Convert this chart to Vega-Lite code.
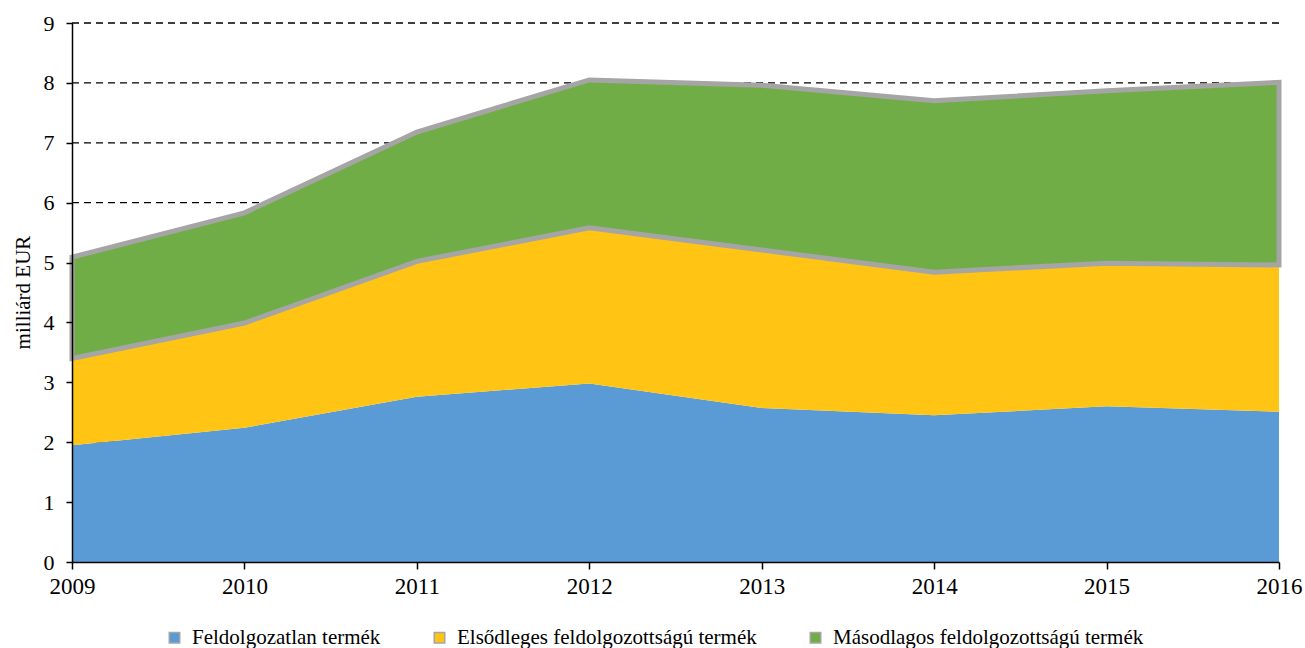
{
  "$schema": "https://vega.github.io/schema/vega-lite/v6.json",
  "width": 1207,
  "height": 539,
  "autosize": {"type": "none"},
  "padding": {"left": 72, "top": 23, "right": 26, "bottom": 86},
  "background": "white",
  "config": {
    "view": {"stroke": null},
    "font": "Liberation Serif",
    "axis": {"labelFont": "Liberation Serif", "titleFont": "Liberation Serif", "labelColor": "black", "titleColor": "black", "domainColor": "black", "tickColor": "black", "titleFontWeight": "normal"},
    "legend": {"labelFont": "Liberation Serif"}
  },
  "datasets": {
    "grid": [{"g": 1}, {"g": 2}, {"g": 3}, {"g": 4}, {"g": 5}, {"g": 6}, {"g": 7}, {"g": 8}, {"g": 9}],
    "main": [
      {"year": 2009, "s": "Feldolgozatlan termék", "ord": 1, "v": 1.95},
      {"year": 2010, "s": "Feldolgozatlan termék", "ord": 1, "v": 2.24},
      {"year": 2011, "s": "Feldolgozatlan termék", "ord": 1, "v": 2.76},
      {"year": 2012, "s": "Feldolgozatlan termék", "ord": 1, "v": 2.98},
      {"year": 2013, "s": "Feldolgozatlan termék", "ord": 1, "v": 2.57},
      {"year": 2014, "s": "Feldolgozatlan termék", "ord": 1, "v": 2.45},
      {"year": 2015, "s": "Feldolgozatlan termék", "ord": 1, "v": 2.60},
      {"year": 2016, "s": "Feldolgozatlan termék", "ord": 1, "v": 2.51},
      {"year": 2009, "s": "Elsődleges feldolgozottságú termék", "ord": 2, "v": 1.45},
      {"year": 2010, "s": "Elsődleges feldolgozottságú termék", "ord": 2, "v": 1.75},
      {"year": 2011, "s": "Elsődleges feldolgozottságú termék", "ord": 2, "v": 2.26},
      {"year": 2012, "s": "Elsődleges feldolgozottságú termék", "ord": 2, "v": 2.60},
      {"year": 2013, "s": "Elsődleges feldolgozottságú termék", "ord": 2, "v": 2.64},
      {"year": 2014, "s": "Elsődleges feldolgozottságú termék", "ord": 2, "v": 2.39},
      {"year": 2015, "s": "Elsődleges feldolgozottságú termék", "ord": 2, "v": 2.39},
      {"year": 2016, "s": "Elsődleges feldolgozottságú termék", "ord": 2, "v": 2.45},
      {"year": 2009, "s": "Másodlagos feldolgozottságú termék", "ord": 3, "v": 1.69},
      {"year": 2010, "s": "Másodlagos feldolgozottságú termék", "ord": 3, "v": 1.84},
      {"year": 2011, "s": "Másodlagos feldolgozottságú termék", "ord": 3, "v": 2.16},
      {"year": 2012, "s": "Másodlagos feldolgozottságú termék", "ord": 3, "v": 2.47},
      {"year": 2013, "s": "Másodlagos feldolgozottságú termék", "ord": 3, "v": 2.75},
      {"year": 2014, "s": "Másodlagos feldolgozottságú termék", "ord": 3, "v": 2.86},
      {"year": 2015, "s": "Másodlagos feldolgozottságú termék", "ord": 3, "v": 2.88},
      {"year": 2016, "s": "Másodlagos feldolgozottságú termék", "ord": 3, "v": 3.05}
    ]
  },
  "layer": [
    {
      "data": {"name": "grid"},
      "mark": {"type": "rule", "color": "black", "strokeDash": [7, 5], "strokeWidth": 1.3},
      "encoding": {
        "y": {"field": "g", "type": "quantitative", "scale": {"domain": [0, 9], "nice": false}}
      }
    },
    {
      "data": {"name": "main"},
      "mark": {"type": "area", "stroke": "#A5A5A5", "strokeJoin": "miter", "clip": false, "opacity": 1, "fillOpacity": 1},
      "encoding": {
        "x": {
          "field": "year", "type": "quantitative",
          "scale": {"domain": [2009, 2016], "nice": false, "zero": false},
          "axis": {"title": null, "values": [2009, 2010, 2011, 2012, 2013, 2014, 2015, 2016], "format": "d", "grid": false, "labelFont": "Liberation Serif", "labelFontSize": 23, "tickSize": 7, "labelPadding": 6, "domainWidth": 1.5, "tickWidth": 1.5, "labelFlush": false, "labelOverlap": false, "zindex": 1}
        },
        "y": {
          "field": "v", "type": "quantitative", "stack": "zero",
          "scale": {"domain": [0, 9], "nice": false},
          "axis": {"title": "milliárd  EUR", "values": [0, 1, 2, 3, 4, 5, 6, 7, 8, 9], "format": "d", "grid": false, "labelFont": "Liberation Serif", "titleFont": "Liberation Serif", "labelFontSize": 22, "tickSize": 6, "labelPadding": 12, "domainWidth": 1.5, "tickWidth": 1.5, "titleFontSize": 21, "titleX": -49, "titleY": 269, "titleAngle": -90, "titleAlign": "center", "titleBaseline": "middle", "zindex": 1}
        },
        "order": {"field": "ord", "type": "quantitative"},
        "color": {
          "field": "s", "type": "nominal",
          "scale": {"domain": ["Feldolgozatlan termék", "Elsődleges feldolgozottságú termék", "Másodlagos feldolgozottságú termék"], "range": ["#5B9BD5", "#FFC414", "#70AD47"]},
          "legend": {
            "title": null, "orient": "none", "direction": "horizontal", "columns": 3,
            "legendX": 92, "legendY": 604, "padding": 0,
            "labelFont": "Liberation Serif", "labelFontSize": 21, "labelColor": "black", "labelOffset": 7, "columnPadding": 48,
            "symbolType": "square", "symbolSize": 110, "symbolOpacity": 1,
            "labelLimit": 500,
            "encode": {"symbols": {"update": {"stroke": {"value": "#A5A5A5"}, "strokeWidth": [{"test": "datum.value === 'Másodlagos feldolgozottságú termék'", "value": 3}, {"value": 0}]}}}
          }
        },
        "strokeWidth": {
          "condition": {"test": "datum.s === 'Másodlagos feldolgozottságú termék'", "value": 5},
          "value": 0
        }
      }
    }
  ]
}
